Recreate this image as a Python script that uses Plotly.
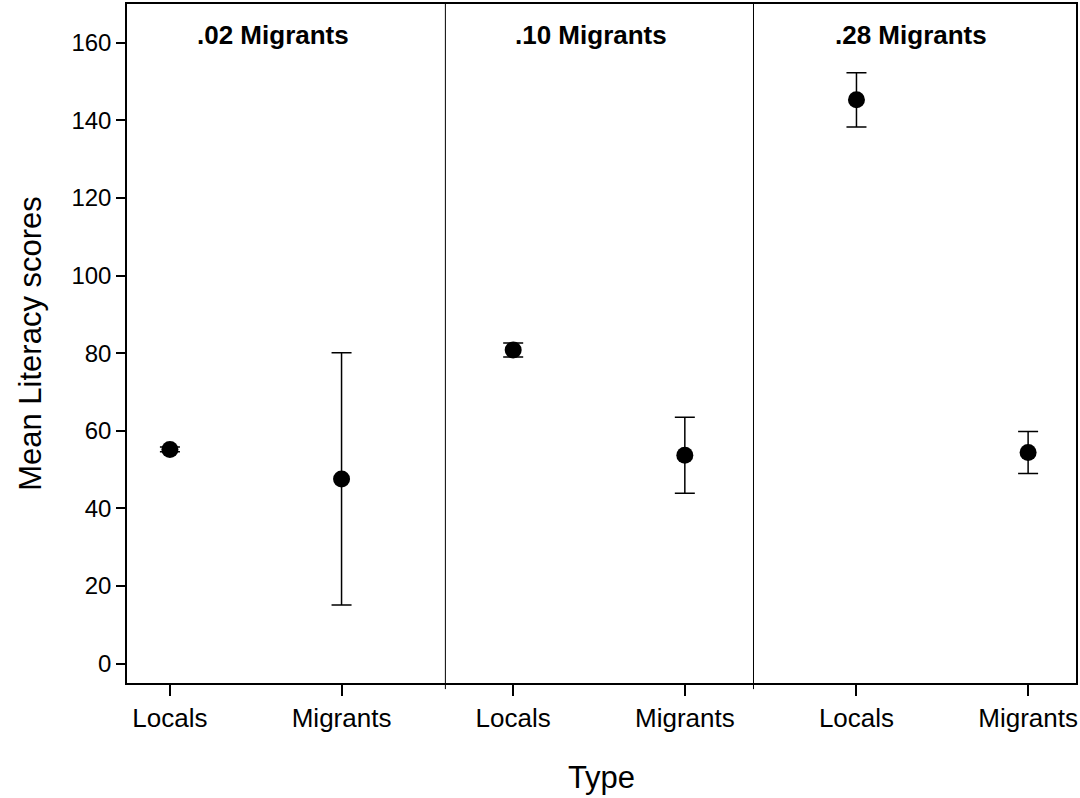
import plotly.graph_objects as go

categories = ["Locals", "Migrants", "Locals", "Migrants", "Locals", "Migrants"]
panels = [".02 Migrants", ".10 Migrants", ".28 Migrants"]
means = [55.2, 47.6, 80.8, 53.7, 145.3, 54.4]
errors = [0.6, 32.5, 1.8, 9.8, 7.0, 5.4]
y_ticks = [0, 20, 40, 60, 80, 100, 120, 140, 160]

xpos = list(range(len(categories)))
dividers = [1.605, 3.40]
title_x = [0.60, 2.456, 4.32]

FONT = "Arial, Liberation Sans, sans-serif"

fig = go.Figure()
fig.add_trace(go.Scatter(
    x=xpos, y=means, mode="markers",
    marker=dict(color="black", size=17),
    error_y=dict(type="data", array=errors, visible=True, color="black", thickness=1.5, width=10),
    showlegend=False,
))

for d in dividers:
    fig.add_shape(type="line", xref="x", yref="paper", x0=d, x1=d, y0=-0.009, y1=1,
                  line=dict(color="black", width=1))

for t, tx in zip(panels, title_x):
    fig.add_annotation(x=tx, y=162, xref="x", yref="y", text="<b>%s</b>" % t, showarrow=False,
                       font=dict(family=FONT, size=26, color="black"))

fig.update_layout(
    width=1080, height=798,
    margin=dict(l=127, r=3, t=2, b=115),
    paper_bgcolor="white", plot_bgcolor="white",
    font=dict(family=FONT, color="black"),
)
fig.update_xaxes(
    range=[-0.25, 5.279], tickmode="array", tickvals=xpos, ticktext=categories,
    showgrid=False, zeroline=False, showline=True, linecolor="black", linewidth=1.5, mirror=True,
    ticks="outside", ticklen=11, tickwidth=1.5, tickcolor="black",
    tickfont=dict(size=26, family=FONT),
    title=dict(text="Type", font=dict(size=31, family=FONT), standoff=34),
)
fig.update_yaxes(
    range=[-5, 170], tickmode="array", tickvals=y_ticks,
    showgrid=False, zeroline=False, showline=True, linecolor="black", linewidth=1.5, mirror=True,
    ticks="outside", ticklen=9, tickwidth=1.5, tickcolor="black",
    tickfont=dict(size=24, family=FONT),
    title=dict(text="Mean Literacy scores", font=dict(size=31, family=FONT), standoff=21),
)

fig.write_html("out.html", config={"displayModeBar": False},
               post_script="document.body.style.margin='0';document.body.style.overflow='hidden';")
